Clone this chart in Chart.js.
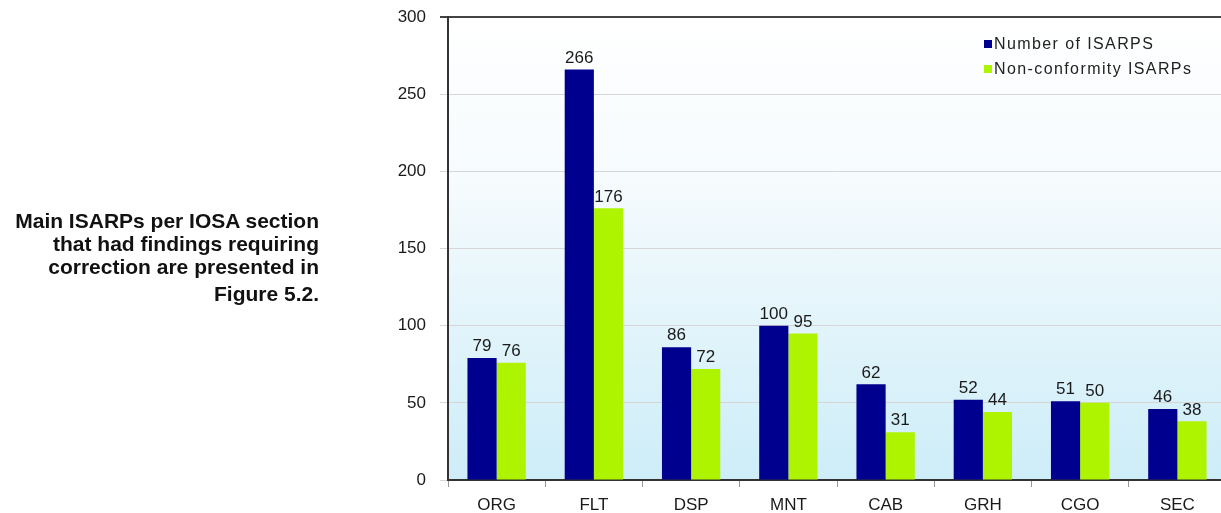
<!DOCTYPE html>
<html>
<head>
<meta charset="utf-8">
<script src="https://cdn.jsdelivr.net/npm/chart.js@4"></script>
<style>
  body { margin:0; background:#fff; overflow:hidden; width:1221px; height:513px; position:relative; font-family: Arial, "Liberation Sans", sans-serif; }
  #chart { position:absolute; left:0; top:0; }
  #note {
    position:absolute; left:0; top:209px; width:319px;
    text-align:right; font-weight:bold; font-size:21px; line-height:23px; color:#111;
  }
  #note .fig { margin-top:4px; }
  #legend { position:absolute; left:984px; top:31px; font-size:16px; color:#222; letter-spacing:1.4px; }
  #legend div { height:25px; line-height:25px; white-space:nowrap; }
  #legend span { display:inline-block; width:8px; height:8px; margin-right:2px; vertical-align:1px; }
</style>
</head>
<body>
<canvas id="chart" width="1240" height="513"></canvas>
<div id="note">Main ISARPs per IOSA section<br>that had findings requiring<br>correction are presented in<div class="fig">Figure 5.2.</div></div>
<div id="legend"></div>
<script>
const ctx = document.getElementById("chart");

/* ================= DATA ================= */

const categories = ["ORG","FLT","DSP","MNT","CAB","GRH","CGO","SEC"];
const numberIsarps = [79, 266, 86, 100, 62, 52, 51, 46];
const nonConformity = [76, 176, 72, 95, 31, 44, 50, 38];
const seriesNames = ["Number of ISARPS", "Non-conformity ISARPs"];
const yTicks = [0, 50, 100, 150, 200, 250, 300];

const colors = ["#00008e", "#aef400"];

/* ================= LEGEND ================= */

document.getElementById("legend").innerHTML = seriesNames.map((n, i) =>
  '<div><span style="background:' + colors[i] + '"></span>' + n + '</div>'
).join("");

/* ================= PLUGINS ================= */

const bgPlugin = {
  id: "bg",
  beforeDraw(chart){
    const a = chart.chartArea, c = chart.ctx;
    const g = c.createLinearGradient(0, a.top, 0, a.bottom);
    g.addColorStop(0, "#ffffff");
    g.addColorStop(0.35, "#f6fbfd");
    g.addColorStop(1, "#cdedf8");
    c.save();
    c.fillStyle = g;
    c.fillRect(a.left, a.top, a.right - a.left, a.bottom - a.top);
    c.restore();
  }
};

const labelPlugin = {
  id: "valueLabels",
  afterDatasetsDraw(chart){
    const c = chart.ctx;
    c.save();
    c.font = "17px Arial, 'Liberation Sans', sans-serif";
    c.fillStyle = "#1a1a1a";
    c.textAlign = "center";
    c.textBaseline = "bottom";
    chart.data.datasets.forEach((ds, i) => {
      chart.getDatasetMeta(i).data.forEach((el, j) => {
        c.fillText(ds.data[j], el.x, el.y - 3);
      });
    });
    c.restore();
  }
};

/* ================= CHART ================= */

new Chart(ctx, {
  type: "bar",
  data: {
    labels: categories,
    datasets: [
      { label: seriesNames[0], data: numberIsarps, backgroundColor: colors[0] },
      { label: seriesNames[1], data: nonConformity, backgroundColor: colors[1] }
    ]
  },
  options: {
    responsive: false,
    animation: false,
    categoryPercentage: 0.6,
    barPercentage: 1.0,
    layout: { padding: { top: 17, right: 14, bottom: 0, left: 0 } },
    plugins: { legend: { display: false }, tooltip: { enabled: false } },
    scales: {
      x: {
        afterFit(s){ s.height = 33; },
        border: { color: "#333", width: 2 },
        grid: { offset: true, drawOnChartArea: false, tickLength: 7, color: "#999" },
        ticks: { color: "#1a1a1a", padding: 8, font: { size: 17, family: "Arial, 'Liberation Sans', sans-serif" } }
      },
      y: {
        min: yTicks[0],
        max: yTicks[yTicks.length - 1],
        afterFit(s){ s.width = 448; s.paddingTop = 0; s.paddingBottom = 0; },
        afterBuildTicks(s){ s.ticks = yTicks.map(v => ({ value: v })); },
        border: { color: "#333", width: 2 },
        grid: {
          tickLength: 8,
          color: c => (c.tick && c.tick.value === 300) ? "#444" : "#d6d6d6",
          lineWidth: c => (c.tick && c.tick.value === 300) ? 2 : 1
        },
        ticks: { color: "#1a1a1a", padding: 14, font: { size: 17, family: "Arial, 'Liberation Sans', sans-serif" } }
      }
    }
  },
  plugins: [bgPlugin, labelPlugin]
});
</script>
</body>
</html>
